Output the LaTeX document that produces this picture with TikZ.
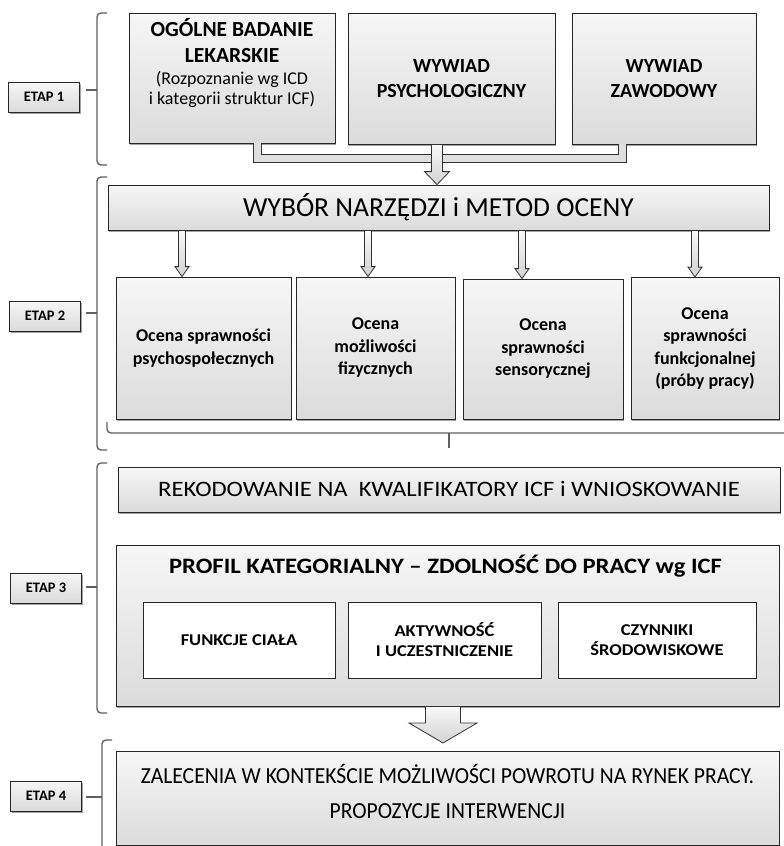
\documentclass[tikz,border=0pt]{standalone}
\usepackage{fontspec}
\setmainfont{Carlito}
\newfontfamily\widefont{Carlito}[FakeStretch=1.12]
\newfontfamily\narrowfont{Carlito}[FakeStretch=0.94]
\usetikzlibrary{calc,shadows}

% block arrow: from, to, stem half width, head half width, head length
\newcommand\blockarrow[5]{%
  \draw[arrowbody] ($(#1)+(-#3,0)$) -- ($(#2)+(-#3,-#5)$) -- ($(#2)+(-#4,-#5)$) -- (#2)
    -- ($(#2)+(#4,-#5)$) -- ($(#2)+(#3,-#5)$) -- ($(#1)+(#3,0)$) -- cycle;}

\begin{document}
\begin{tikzpicture}[x=1pt, y=-1pt,
    box/.style={draw=black!85, line width=.8pt, top color=gray!7, bottom color=gray!28,
        drop shadow={shadow xshift=1.3pt, shadow yshift=-1.5pt, fill=black!60, opacity=.6},
        align=center, inner sep=1pt},
    etap/.style={box, minimum width=71pt, minimum height=30pt,
        font=\fontsize{14.5}{16}\selectfont\bfseries},
    whitebox/.style={draw=black!85, line width=.8pt, fill=white, align=center,
        minimum height=76pt, font=\widefont\fontsize{16.5}{20}\selectfont\bfseries},
    ocena/.style={box, minimum height=142pt, font=\fontsize{18}{22.5}\selectfont\bfseries},
    wywiad/.style={box, minimum height=131pt, font=\fontsize{20}{25}\selectfont\bfseries},
    brace/.style={draw=gray!75!black, line width=1.4pt, rounded corners=4pt},
    bar/.style={draw=black!80, line width=.9pt, double=gray!25, double distance=7pt},
    arrowbody/.style={draw=black!80, line width=.8pt, top color=gray!5, bottom color=gray!35}]
    \useasboundingbox (0,0) rectangle (784,846);

    % etapy
    \node[etap] (e1) at (44,97) {ETAP 1};
    \node[etap] (e2) at (45,316) {ETAP 2};
    \node[etap] (e3) at (46,588) {ETAP 3};
    \node[etap] (e4) at (46,796) {ETAP 4};

    % klamry
    \draw[brace] (107,13) -- (97,13) -- (97,165) -- (107,165);
    \draw[brace] (97,90) -- (86,90);
    \draw[brace] (107,177) -- (97,177) -- (97,450) -- (107,450);
    \draw[brace] (97,313) -- (86,313);
    \draw[brace] (107,422) -- (107,433) -- (790,433);
    \draw[brace] (449,433) -- (449,448);
    \draw[brace] (107,463) -- (97,463) -- (97,713) -- (107,713);
    \draw[brace] (97,587) -- (86,587);
    \draw[brace] (112,740) -- (102,740) -- (102,850);
    \draw[brace] (102,797) -- (86,797);

    % etap 1
    \node[box, minimum width=206pt, minimum height=130pt] (b1) at (232,78) {};
    \node[anchor=north, align=center, font=\fontsize{21.5}{26}\selectfont\bfseries] (b1t) at (232,15)
        {OGÓLNE BADANIE\\LEKARSKIE};
    \node[anchor=north, align=center, font=\fontsize{18}{20}\selectfont] (b1s) at (232,68)
        {(Rozpoznanie wg ICD\\i kategorii struktur ICF)};
    \node[wywiad, minimum width=207pt] (b2) at (451.5,78.5) {WYWIAD\\PSYCHOLOGICZNY};
    \node[wywiad, minimum width=184pt] (b3) at (664,78.5) {WYWIAD\\ZAWODOWY};

    % etap 2
    \node[box, minimum width=661pt, minimum height=45pt, font=\fontsize{27.5}{30}\selectfont]
        (wybor) at (438.5,207.5) {WYBÓR NARZĘDZI i METOD OCENY};
    \node[ocena, minimum width=175pt] (o1) at (203.5,348) {Ocena sprawności\\psychospołecznych};
    \node[ocena, minimum width=159pt] (o2) at (375.5,348) {Ocena\\możliwości\\fizycznych};
    \node[ocena, minimum width=160pt, minimum height=140pt] (o3) at (543,349) {Ocena\\sprawności\\sensorycznej};
    \node[ocena, minimum width=148pt] (o4) at (705,348.5) {Ocena\\sprawności\\funkcjonalnej\\(próby pracy)};

    % etap 3
    \node[box, minimum width=662pt, minimum height=45pt, font=\widefont\fontsize{22}{25}\selectfont]
        (rek) at (449,489.5) {REKODOWANIE NA\ \ KWALIFIKATORY ICF i WNIOSKOWANIE};
    \node[box, minimum width=663pt, minimum height=161pt] (profil) at (447.5,625.5) {};
    \node[font=\widefont\fontsize{22}{25}\selectfont\bfseries] (pt) at (445.5,566)
        {PROFIL KATEGORIALNY – ZDOLNOŚĆ DO PRACY wg ICF};
    \node[whitebox, minimum width=192pt] (f1) at (239,640) {FUNKCJE CIAŁA};
    \node[whitebox, minimum width=193pt] (f2) at (444.5,640) {AKTYWNOŚĆ\\I UCZESTNICZENIE};
    \node[whitebox, minimum width=198pt] (f3) at (657,640) {CZYNNIKI\\ŚRODOWISKOWE};

    % etap 4
    \node[box, minimum width=663pt, minimum height=94pt] (zal) at (447.5,798) {};
    \node[align=center, font=\narrowfont\fontsize{23}{35}\selectfont] (zalt) at (447.5,791)
        {ZALECENIA W KONTEKŚCIE MOŻLIWOŚCI POWROTU NA RYNEK PRACY.\\PROPOZYCJE INTERWENCJI};

    % strzalki
    \coordinate (xl) at (257.5,0);
    \coordinate (xr) at (622.5,0);
    \coordinate (ax0) at (437,0);
    \coordinate (a1) at (182,0);
    \coordinate (a2) at (368,0);
    \coordinate (a3) at (522,0);
    \coordinate (a4) at (695,0);
    \coordinate (a5) at (443,743);
    \draw[bar] (b1.south -| xl) -- ++(0,15) -| (b3.south -| xr);
    \blockarrow{b2.south -| ax0}{wybor.north -| ax0}{5.5}{12.5}{13}
    \foreach \i in {1,...,4}{
        \blockarrow{wybor.south -| a\i}{o\i.north -| a\i}{3.5}{7}{10}}
    \blockarrow{profil.south -| a5}{a5}{17.5}{34}{20}
\end{tikzpicture}
\end{document}
